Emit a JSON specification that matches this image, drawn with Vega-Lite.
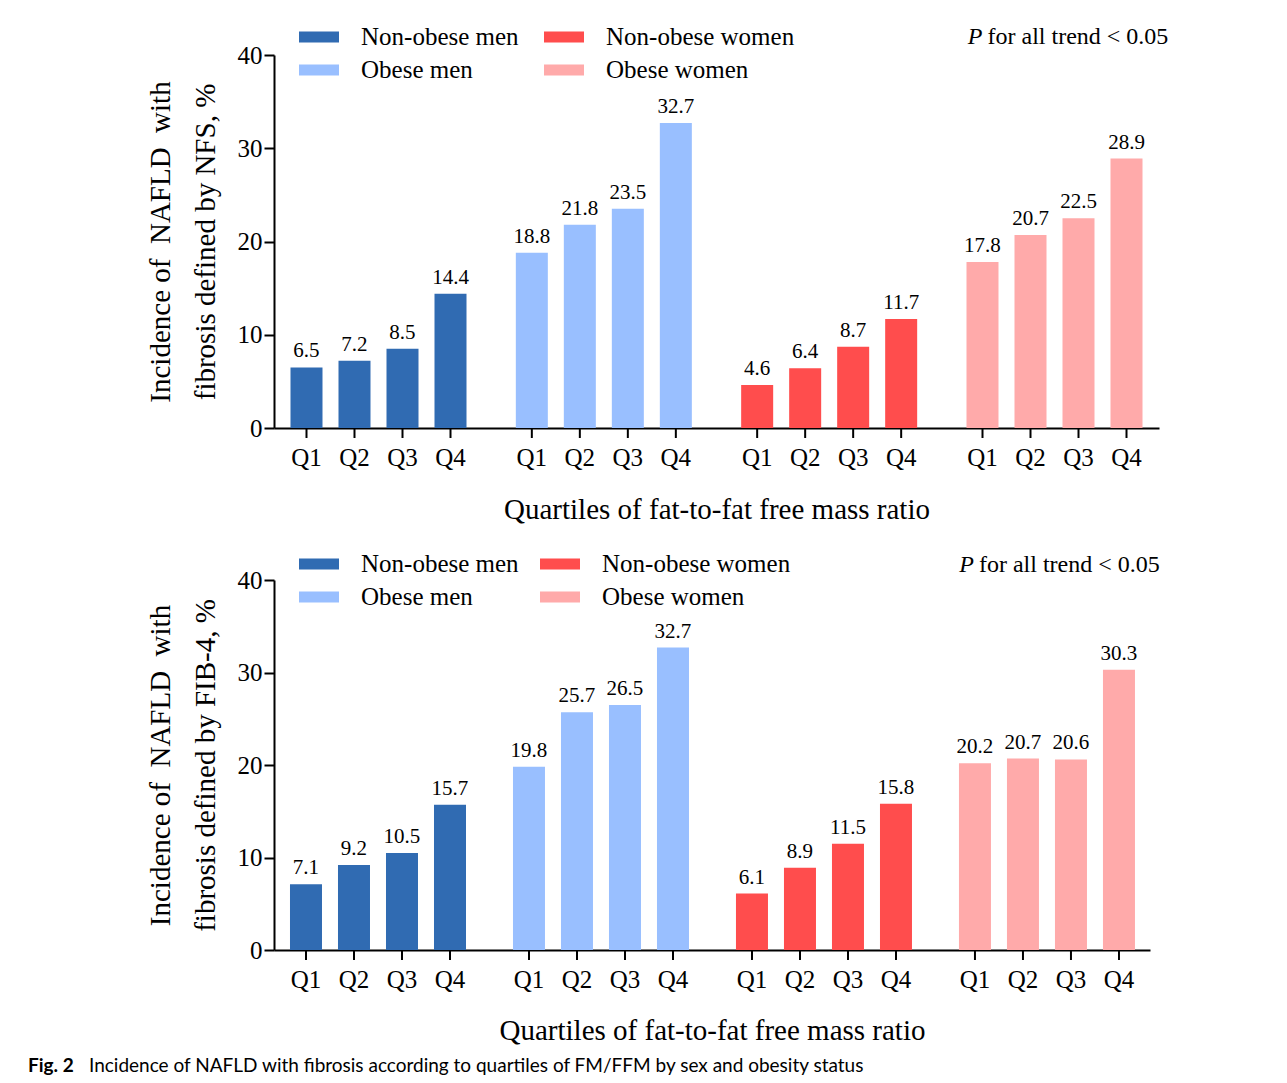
{
  "$schema": "https://vega.github.io/schema/vega-lite/v6.json",
  "padding": {"left": 27, "top": 17, "right": 5, "bottom": 5},
  "spacing": 20,
  "config": {
    "font": "Liberation Serif",
    "view": {"stroke": null},
    "axis": {"labelColor": "black", "titleColor": "black", "titleFontWeight": "normal", "domainColor": "black", "domainWidth": 2, "tickColor": "black", "tickWidth": 2, "grid": false, "labelFont": "Liberation Serif", "titleFont": "Liberation Serif"},
    "legend": {"labelFont": "Liberation Serif", "labelColor": "black", "labelLimit": 400},
    "text": {"color": "black", "font": "Liberation Serif"}
  },
  "resolve": {"legend": {"color": "independent"}, "scale": {"color": "independent"}},
  "datasets": {
    "d": [
      {"panel": "NFS", "group": "Non-obese men", "q": "Q1", "v": 6.5},
      {"panel": "NFS", "group": "Non-obese men", "q": "Q2", "v": 7.2},
      {"panel": "NFS", "group": "Non-obese men", "q": "Q3", "v": 8.5},
      {"panel": "NFS", "group": "Non-obese men", "q": "Q4", "v": 14.4},
      {"panel": "NFS", "group": "Obese men", "q": "Q1", "v": 18.8},
      {"panel": "NFS", "group": "Obese men", "q": "Q2", "v": 21.8},
      {"panel": "NFS", "group": "Obese men", "q": "Q3", "v": 23.5},
      {"panel": "NFS", "group": "Obese men", "q": "Q4", "v": 32.7},
      {"panel": "NFS", "group": "Non-obese women", "q": "Q1", "v": 4.6},
      {"panel": "NFS", "group": "Non-obese women", "q": "Q2", "v": 6.4},
      {"panel": "NFS", "group": "Non-obese women", "q": "Q3", "v": 8.7},
      {"panel": "NFS", "group": "Non-obese women", "q": "Q4", "v": 11.7},
      {"panel": "NFS", "group": "Obese women", "q": "Q1", "v": 17.8},
      {"panel": "NFS", "group": "Obese women", "q": "Q2", "v": 20.7},
      {"panel": "NFS", "group": "Obese women", "q": "Q3", "v": 22.5},
      {"panel": "NFS", "group": "Obese women", "q": "Q4", "v": 28.9},
      {"panel": "FIB", "group": "Non-obese men", "q": "Q1", "v": 7.1},
      {"panel": "FIB", "group": "Non-obese men", "q": "Q2", "v": 9.2},
      {"panel": "FIB", "group": "Non-obese men", "q": "Q3", "v": 10.5},
      {"panel": "FIB", "group": "Non-obese men", "q": "Q4", "v": 15.7},
      {"panel": "FIB", "group": "Obese men", "q": "Q1", "v": 19.8},
      {"panel": "FIB", "group": "Obese men", "q": "Q2", "v": 25.7},
      {"panel": "FIB", "group": "Obese men", "q": "Q3", "v": 26.5},
      {"panel": "FIB", "group": "Obese men", "q": "Q4", "v": 32.7},
      {"panel": "FIB", "group": "Non-obese women", "q": "Q1", "v": 6.1},
      {"panel": "FIB", "group": "Non-obese women", "q": "Q2", "v": 8.9},
      {"panel": "FIB", "group": "Non-obese women", "q": "Q3", "v": 11.5},
      {"panel": "FIB", "group": "Non-obese women", "q": "Q4", "v": 15.8},
      {"panel": "FIB", "group": "Obese women", "q": "Q1", "v": 20.2},
      {"panel": "FIB", "group": "Obese women", "q": "Q2", "v": 20.7},
      {"panel": "FIB", "group": "Obese women", "q": "Q3", "v": 20.6},
      {"panel": "FIB", "group": "Obese women", "q": "Q4", "v": 30.3}
    ]
  },
  "vconcat": [
    {
      "width": 885,
      "height": 373,
      "data": {"name": "d"},
      "transform": [{"filter": "datum.panel == 'NFS'"}],
      "encoding": {
        "x": {"field": "group", "type": "nominal", "sort": ["Non-obese men", "Obese men", "Non-obese women", "Obese women"],
              "scale": {"paddingInner": 0.2189, "paddingOuter": 0.0732},
              "axis": {"title": "Quartiles of fat-to-fat free mass ratio", "labels": false, "ticks": false, "titleFontSize": 29, "titlePadding": 67}},
        "xOffset": {"field": "q", "type": "nominal", "sort": ["Q1", "Q2", "Q3", "Q4"], "scale": {"paddingInner": 0.3333, "paddingOuter": 0}}
      },
      "layer": [
        {"mark": {"type": "rule", "strokeWidth": 2, "color": "black"},
         "encoding": {"y": {"datum": 0, "type": "quantitative", "scale": {"domain": [0, 40], "nice": false}}, "y2": {"datum": -1.07}}},
        {"mark": {"type": "bar"},
         "encoding": {
           "y": {"field": "v", "type": "quantitative", "scale": {"domain": [0, 40], "nice": false},
                 "axis": {"title": ["Incidence of\u00a0\u00a0NAFLD\u00a0\u00a0with", "fibrosis defined by NFS, %"], "values": [0, 10, 20, 30, 40], "tickSize": 10, "labelFontSize": 25, "labelPadding": 2, "titleFontSize": 29, "titleLineHeight": 45, "titlePadding": 17}},
           "color": {"field": "group", "type": "nominal",
                     "scale": {"domain": ["Non-obese men", "Obese men", "Non-obese women", "Obese women"], "range": ["#306BB2", "#99BFFF", "#FF4D4D", "#FFAAAA"]},
                     "legend": {"orient": "none", "legendX": 25, "legendY": -38, "columns": 2, "title": null, "padding": 0,
                                "symbolType": "M-1,-0.275L1,-0.275L1,0.275L-1,0.275Z", "symbolSize": 1600, "symbolStrokeWidth": 0,
                                "labelFontSize": 25, "labelOffset": 22, "columnPadding": 25, "rowPadding": 0}}
         }},
        {"mark": {"type": "text", "baseline": "alphabetic", "dy": -10, "fontSize": 21},
         "encoding": {"y": {"field": "v", "type": "quantitative", "scale": {"domain": [0, 40], "nice": false}}, "text": {"field": "v", "type": "quantitative", "format": ".1f"}}},
        {"mark": {"type": "text", "baseline": "alphabetic", "dy": 38, "fontSize": 25},
         "encoding": {"y": {"datum": 0, "type": "quantitative", "scale": {"domain": [0, 40], "nice": false}}, "text": {"field": "q"}}},
        {"transform": [{"filter": "datum.group == 'Obese women' && datum.q == 'Q1'"}],
         "mark": {"type": "text", "baseline": "alphabetic", "align": "right", "dx": 0, "dy": -11, "fontSize": 24, "fontStyle": "italic"},
         "encoding": {"y": {"datum": 40, "type": "quantitative", "scale": {"domain": [0, 40], "nice": false}}, "text": {"value": "P"}}},
        {"transform": [{"filter": "datum.group == 'Obese women' && datum.q == 'Q1'"}],
         "mark": {"type": "text", "baseline": "alphabetic", "align": "left", "dx": 5, "dy": -11, "fontSize": 24},
         "encoding": {"y": {"datum": 40, "type": "quantitative", "scale": {"domain": [0, 40], "nice": false}}, "text": {"value": "for all trend < 0.05"}}}
      ]
    },
    {
      "width": 876,
      "height": 370,
      "data": {"name": "d"},
      "transform": [{"filter": "datum.panel == 'FIB'"}],
      "encoding": {
        "x": {"field": "group", "type": "nominal", "sort": ["Non-obese men", "Obese men", "Non-obese women", "Obese women"],
              "scale": {"paddingInner": 0.215, "paddingOuter": 0.0717},
              "axis": {"title": "Quartiles of fat-to-fat free mass ratio", "labels": false, "ticks": false, "titleFontSize": 29, "titlePadding": 66}},
        "xOffset": {"field": "q", "type": "nominal", "sort": ["Q1", "Q2", "Q3", "Q4"], "scale": {"paddingInner": 0.3333, "paddingOuter": 0}}
      },
      "layer": [
        {"mark": {"type": "rule", "strokeWidth": 2, "color": "black"},
         "encoding": {"y": {"datum": 0, "type": "quantitative", "scale": {"domain": [0, 40], "nice": false}}, "y2": {"datum": -1.08}}},
        {"mark": {"type": "bar"},
         "encoding": {
           "y": {"field": "v", "type": "quantitative", "scale": {"domain": [0, 40], "nice": false},
                 "axis": {"title": ["Incidence of\u00a0\u00a0NAFLD\u00a0\u00a0with", "fibrosis defined by FIB-4, %"], "values": [0, 10, 20, 30, 40], "tickSize": 10, "labelFontSize": 25, "labelPadding": 2, "titleFontSize": 29, "titleLineHeight": 45, "titlePadding": 17}},
           "color": {"field": "group", "type": "nominal",
                     "scale": {"domain": ["Non-obese men", "Obese men", "Non-obese women", "Obese women"], "range": ["#306BB2", "#99BFFF", "#FF4D4D", "#FFAAAA"]},
                     "legend": {"orient": "none", "legendX": 25, "legendY": -36, "columns": 2, "title": null, "padding": 0,
                                "symbolType": "M-1,-0.275L1,-0.275L1,0.275L-1,0.275Z", "symbolSize": 1600, "symbolStrokeWidth": 0,
                                "labelFontSize": 25, "labelOffset": 22, "columnPadding": 21, "rowPadding": 0}}
         }},
        {"mark": {"type": "text", "baseline": "alphabetic", "dy": -10, "fontSize": 21},
         "encoding": {"y": {"field": "v", "type": "quantitative", "scale": {"domain": [0, 40], "nice": false}}, "text": {"field": "v", "type": "quantitative", "format": ".1f"}}},
        {"mark": {"type": "text", "baseline": "alphabetic", "dy": 38, "fontSize": 25},
         "encoding": {"y": {"datum": 0, "type": "quantitative", "scale": {"domain": [0, 40], "nice": false}}, "text": {"field": "q"}}},
        {"transform": [{"filter": "datum.group == 'Obese women' && datum.q == 'Q1'"}],
         "mark": {"type": "text", "baseline": "alphabetic", "align": "right", "dx": -1, "dy": -8, "fontSize": 24, "fontStyle": "italic"},
         "encoding": {"y": {"datum": 40, "type": "quantitative", "scale": {"domain": [0, 40], "nice": false}}, "text": {"value": "P"}}},
        {"transform": [{"filter": "datum.group == 'Obese women' && datum.q == 'Q1'"}],
         "mark": {"type": "text", "baseline": "alphabetic", "align": "left", "dx": 4, "dy": -8, "fontSize": 24},
         "encoding": {"y": {"datum": 40, "type": "quantitative", "scale": {"domain": [0, 40], "nice": false}}, "text": {"value": "for all trend < 0.05"}}},
        {"transform": [{"filter": "datum.group == 'Non-obese men' && datum.q == 'Q1'"}],
         "mark": {"type": "text", "baseline": "alphabetic", "align": "left", "dx": -278, "dy": 122, "fontSize": 19, "font": "Lato", "fontWeight": "bold"},
         "encoding": {"y": {"datum": 0, "type": "quantitative", "scale": {"domain": [0, 40], "nice": false}}, "text": {"value": "Fig. 2"}}},
        {"transform": [{"filter": "datum.group == 'Non-obese men' && datum.q == 'Q1'"}],
         "mark": {"type": "text", "baseline": "alphabetic", "align": "left", "dx": -217, "dy": 122, "fontSize": 19, "font": "Lato"},
         "encoding": {"y": {"datum": 0, "type": "quantitative", "scale": {"domain": [0, 40], "nice": false}}, "text": {"value": "Incidence of NAFLD with fibrosis according to quartiles of FM/FFM by sex and obesity status"}}}
      ]
    }
  ]
}
